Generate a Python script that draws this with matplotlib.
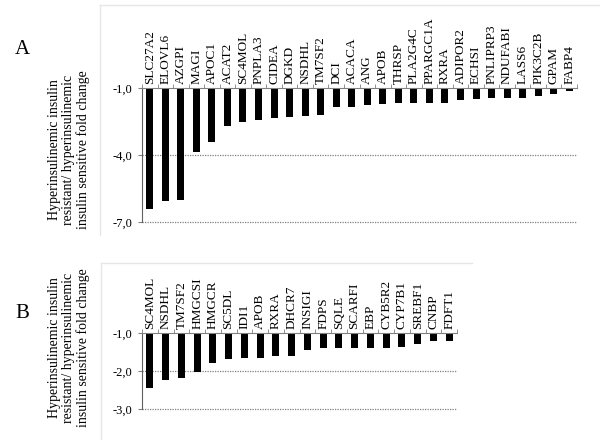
import numpy as np
import matplotlib
matplotlib.use("Agg")
import matplotlib.pyplot as plt
from matplotlib.lines import Line2D

plt.rcParams['font.family'] = ['Liberation Serif', 'DejaVu Serif']

# panel A data
genes_a = ["SLC27A2", "ELOVL6", "AZGPI", "MAGI", "APOC1", "ACAT2", "SC4MOL",
           "PNPLA3", "CIDEA", "DGKD", "NSDHL", "TM7SF2", "DCI", "ACACA", "ANG",
           "APOB", "THRSP", "PLA2G4C", "PPARGC1A", "RXRA", "ADIPOR2", "ECHSI",
           "PNLIPRP3", "NDUFABI", "LASS6", "PIK3C2B", "GPAM", "FABP4"]
fold_a = [-6.44, -6.05, -6.0, -3.87, -3.42, -2.72, -2.54, -2.43, -2.36, -2.31,
          -2.27, -2.21, -1.84, -1.84, -1.78, -1.73, -1.69, -1.69, -1.69, -1.69,
          -1.55, -1.48, -1.43, -1.43, -1.43, -1.34, -1.28, -1.15]
yticks_a = [-1.0, -4.0, -7.0]

# panel B data
genes_b = ["SC4MOL", "NSDHL", "TM7SF2", "HMGCSI", "HMGCR", "SC5DL", "IDI1",
           "APOB", "RXRA", "DHCR7", "INSIGI", "FDPS", "SQLE", "SCARFI", "EBP",
           "CYB5R2", "CYP7B1", "SREBF1", "CNBP", "FDFT1"]
fold_b = [-2.46, -2.23, -2.18, -2.02, -1.79, -1.68, -1.66, -1.66, -1.61, -1.61,
          -1.45, -1.40, -1.40, -1.39, -1.40, -1.40, -1.38, -1.30, -1.22, -1.22]
yticks_b = [-1.0, -2.0, -3.0]

ylabel = ("Hyperinsulinemic insulin\nresistant/ hyperinsulinemic\n"
          "insulin sensitive fold change")

fig = plt.figure(figsize=(6, 4.4), dpi=100)


def draw_panel(ax, genes, vals, yticks):
    n = len(genes)
    x = np.arange(n)
    top = yticks[0]
    ax.bar(x, np.array(vals) - top, bottom=top, width=0.45, color='black')
    ax.set_xlim(-0.5, n - 0.5)
    ax.set_ylim(yticks[-1], top)
    ax.set_yticks(yticks)
    ax.set_yticklabels([("%.1f" % t).replace('.', ',') for t in yticks],
                       fontsize=9)
    for t in yticks[1:]:
        ax.axhline(t, color='#808080', lw=0.9, ls=(0, (1, 1)), zorder=0,
                   clip_on=False)
    ax.xaxis.tick_top()
    ax.set_xticks(x)
    ax.set_xticklabels(genes, rotation=90, fontsize=9.5)
    ax.set_xticks(np.arange(n + 1) - 0.5, minor=True)
    ax.tick_params(axis='x', which='major', length=0, pad=3)
    ax.tick_params(axis='x', which='minor', length=3, color='#808080',
                   direction='out', top=True)
    ax.tick_params(axis='y', length=3, color='#808080', pad=4)
    for s in ['right', 'bottom']:
        ax.spines[s].set_visible(False)
    ax.spines['top'].set_color('#808080')
    ax.spines['left'].set_color('#606060')


ax_a = fig.add_axes([142 / 600, 1 - 222 / 440, 435 / 600, 134 / 440])
draw_panel(ax_a, genes_a, fold_a, yticks_a)

ax_b = fig.add_axes([142 / 600, 1 - 409 / 440, 315 / 600, 76 / 440])
draw_panel(ax_b, genes_b, fold_b, yticks_b)

fig.text(22 / 600, 1 - 50 / 440, "A", fontsize=15, ha='center', va='center')
fig.text(22 / 600, 1 - 313 / 440, "B", fontsize=15, ha='center', va='center')
fig.text(69 / 600, 1 - 150 / 440, ylabel, rotation=90, fontsize=10,
         ha='center', va='center', linespacing=1.1)
fig.text(69 / 600, 1 - 348 / 440, ylabel, rotation=90, fontsize=10,
         ha='center', va='center', linespacing=1.1)

# light chart-area borders
W, H = 600, 440
for xs, ys in [([100, 600], [5, 5]), ([100, 100], [5, 235]),
               ([101, 472], [263, 263]), ([101, 101], [263, 440])]:
    fig.add_artist(Line2D([v / W for v in xs], [1 - v / H for v in ys],
                          color='#e6e6e6', lw=1))

fig.savefig("out.png", dpi=100)
